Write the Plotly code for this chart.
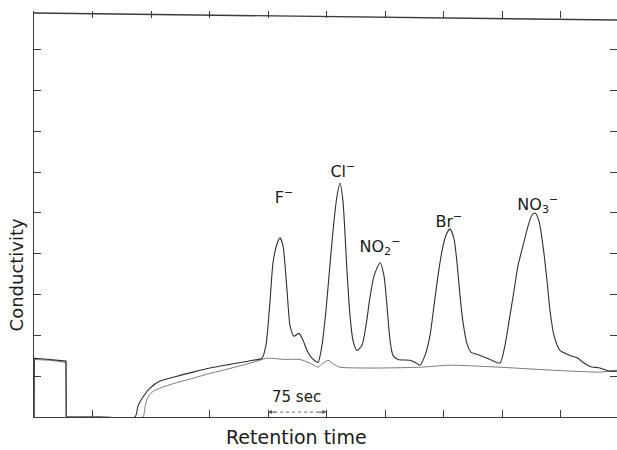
import plotly.graph_objects as go

# Injection step at the start (both runs), retention time (s) / conductivity (a.u.)
step_t = [0, 0.3, 20.5, 41, 41.3]
step_sample_c = [0, 1.44, 1.41, 1.37, 0]
step_blank_c = [0, 1.41, 1.39, 1.34, 0]

# Sample chromatogram after the step
sample_t = [41.3, 84.6, 129.5, 133.3, 139.7, 148.7, 161.5, 183.3, 203.8, 225.6,
            251.3, 280.8, 292.3, 297.4, 302.6, 306.4, 311.5, 315.4, 319.2, 324.4, 328.2, 333.3,
            339.7, 344.9, 350, 356.4, 364.1, 369.2, 374.3, 378.2, 383.3, 388.4, 392.3, 396.1,
            401.2, 405.1, 408.9, 414, 420.5, 425.6, 430.7, 435.9, 443.6, 448.7, 452.5, 456.4,
            460.2, 466.6, 482, 488.4, 494.9, 501.3, 507.7, 512.8, 517.9, 523.1, 528.2, 533.3,
            538.4, 542.3, 546.1, 550, 555.1, 560.2, 571.7, 584.6, 597.4, 603.8, 610.2, 615.4,
            620.5, 626.9, 633.3, 638.4, 642.3, 647.4, 652.5, 657.7, 661.5, 666.6, 674.3, 687.1,
            697.4, 703.8, 712.8, 725.6, 738.4, 747.4]
sample_c = [0, 0, 0, 0.27, 0.49, 0.71, 0.88, 1.0, 1.10, 1.20,
            1.29, 1.39, 1.44, 1.76, 2.85, 3.78, 4.24, 4.39, 4.20, 3.10, 2.24, 1.98,
            2.05, 1.88, 1.63, 1.44, 1.34, 1.76, 2.61, 3.46, 4.56, 5.41, 5.73, 5.29,
            3.59, 2.49, 1.88, 1.63, 1.76, 2.24, 2.93, 3.46, 3.78, 3.46, 2.73, 1.88,
            1.51, 1.41, 1.39, 1.34, 1.27, 1.51, 2.00, 2.73, 3.46, 4.07, 4.46, 4.61,
            4.37, 3.78, 2.98, 2.32, 1.80, 1.59, 1.51, 1.41, 1.32, 1.76, 2.49, 3.10,
            3.71, 4.20, 4.68, 4.95, 5.00, 4.80, 4.20, 3.34, 2.61, 2.00, 1.63, 1.51,
            1.44, 1.34, 1.24, 1.20, 1.12, 1.12]

# Blank (eluent only) after the step
blank_t = [41.3, 84.6, 139.7, 142.3, 144.9, 151.3, 161.5, 180.8, 203.8, 225.6,
           247.4, 280.8, 298.7, 321.8, 341, 353.8, 364.1, 370.5, 376.9, 384.6, 392.3, 434.6,
           494.9, 533.3, 597.4, 661.5, 725.6, 747.4]
blank_c = [0, 0, 0, 0.24, 0.44, 0.61, 0.71, 0.83, 0.95, 1.07,
           1.17, 1.34, 1.44, 1.41, 1.41, 1.32, 1.22, 1.32, 1.39, 1.29, 1.22, 1.20,
           1.22, 1.27, 1.22, 1.15, 1.10, 1.15]

# Peak labels
peak_labels = ["F<sup>−</sup>", "Cl<sup>−</sup>", "NO<sub>2</sub><sup>−</sup>", "Br<sup>−</sup>", "NO<sub>3</sub><sup>−</sup>"]
peak_label_t = [320.5, 396, 443.6, 532, 646]
peak_label_c = [5.34, 5.98, 4.15, 4.76, 5.17]

# Ticks
y_ticks = [1, 2, 3, 4, 5, 6, 7, 8, 9]
top_ticks = [75, 150, 225, 300, 375, 450, 525, 600, 675]
bottom_ticks = [75, 225, 300, 375, 450, 525, 600, 675]

X_RANGE = [0, 747.4]
Y_RANGE = [0, 9.95]
FONT = "DejaVu Sans"
INK = "#3a3a3a"

fig = go.Figure()
fig.add_trace(go.Scatter(x=step_t, y=step_blank_c, mode="lines",
                         line=dict(color="#7a7a7a", width=1), hoverinfo="skip", showlegend=False))
fig.add_trace(go.Scatter(x=step_t, y=step_sample_c, mode="lines",
                         line=dict(color="#2e2e2e", width=1.1), hoverinfo="skip", showlegend=False))
fig.add_trace(go.Scatter(x=blank_t, y=blank_c, mode="lines",
                         line=dict(color="#7a7a7a", width=1, shape="spline", smoothing=0.5),
                         hoverinfo="skip", showlegend=False))
fig.add_trace(go.Scatter(x=sample_t, y=sample_c, mode="lines",
                         line=dict(color="#2e2e2e", width=1.1, shape="spline", smoothing=0.6),
                         hoverinfo="skip", showlegend=False))
# helper (invisible) trace to carry the mirrored top/right tick axes
fig.add_trace(go.Scatter(x=[X_RANGE[0]], y=[Y_RANGE[0]], xaxis="x2", yaxis="y2", mode="markers",
                         marker=dict(opacity=0), hoverinfo="skip", showlegend=False))

fig.add_trace(go.Scatter(x=peak_label_t, y=peak_label_c, mode="text", text=peak_labels,
                         textfont=dict(family=FONT, size=16, color="#1a1a1a"),
                         hoverinfo="skip", showlegend=False))

# top border (slightly skewed like the scanned original)
fig.add_shape(type="line", x0=X_RANGE[0], x1=X_RANGE[1], y0=9.9, y1=9.73,
              xref="x", yref="y", line=dict(color=INK, width=1.4))

# 75 sec scale bar
fig.add_shape(type="line", x0=300, x1=375, y0=0.12, y1=0.12, xref="x", yref="y",
              line=dict(color="#666", width=1, dash="dot"))
fig.add_annotation(x=300, y=0.12, ax=9, ay=0, text="", showarrow=True, arrowhead=2,
                   arrowsize=0.8, arrowwidth=1, arrowcolor="#555")
fig.add_annotation(x=375, y=0.12, ax=-9, ay=0, text="", showarrow=True, arrowhead=2,
                   arrowsize=0.8, arrowwidth=1, arrowcolor="#555")
fig.add_annotation(x=336, y=0.48, text="75 sec", showarrow=False,
                   font=dict(family=FONT, size=15, color="#1a1a1a"))

# axis titles
fig.add_annotation(xref="paper", yref="paper", x=0.451, y=-0.05, text="Retention time",
                   showarrow=False, yanchor="middle",
                   font=dict(family=FONT, size=19, color="#1a1a1a"))
fig.add_annotation(xref="paper", yref="paper", x=-0.03, y=0.35, text="Conductivity",
                   showarrow=False, textangle=-90, xanchor="center", yanchor="middle",
                   font=dict(family=FONT, size=18, color="#1a1a1a"))

fig.update_layout(
    width=617, height=450,
    margin=dict(l=34, r=0, t=11, b=33),
    paper_bgcolor="white", plot_bgcolor="white",
    xaxis=dict(range=X_RANGE, showgrid=False, zeroline=False, showline=True,
               linecolor=INK, linewidth=1.4, ticks="inside", tickvals=bottom_ticks,
               ticklen=7, tickcolor=INK, showticklabels=False),
    yaxis=dict(range=Y_RANGE, showgrid=False, zeroline=False, showline=True,
               linecolor=INK, linewidth=1.4, ticks="inside", tickvals=y_ticks,
               ticklen=7, tickcolor=INK, showticklabels=False),
    xaxis2=dict(range=X_RANGE, overlaying="x", side="top", anchor="y2", showgrid=False,
                zeroline=False, showline=False, ticks="inside", tickvals=top_ticks,
                ticklen=7, tickcolor=INK, showticklabels=False),
    yaxis2=dict(range=Y_RANGE, overlaying="y", side="right", anchor="x2", showgrid=False,
                zeroline=False, showline=False, ticks="inside", tickvals=y_ticks,
                ticklen=7, tickcolor=INK, showticklabels=False),
)

fig.write_html("out.html", config={"displayModeBar": False},
               post_script="document.body.style.margin='0';document.body.style.padding='0';")
